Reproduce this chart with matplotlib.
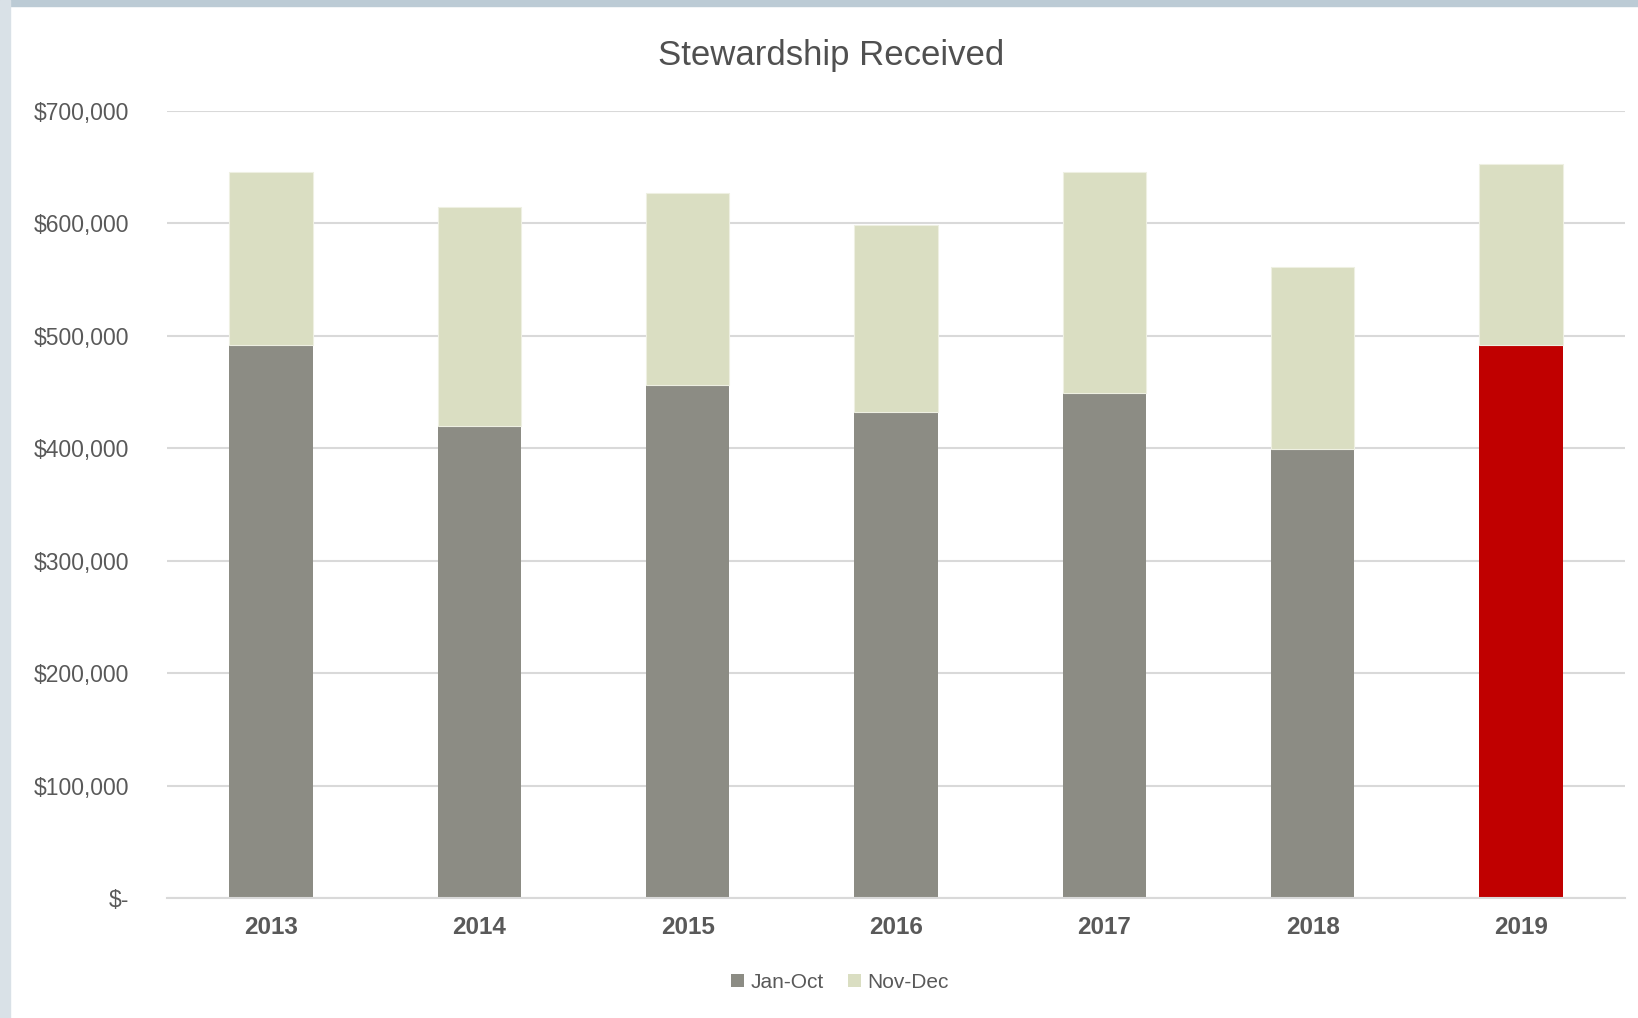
import numpy as np
import matplotlib
matplotlib.use("Agg")
import matplotlib.pyplot as plt
from matplotlib.patches import Rectangle, Patch

# Data
years = ["2013", "2014", "2015", "2016", "2017", "2018", "2019"]
jan_oct = [492000, 420000, 456000, 432000, 449000, 399000, 492000]
nov_dec = [154000, 195000, 171000, 167000, 197000, 162000, 161000]
y_ticks = [0, 100000, 200000, 300000, 400000, 500000, 600000, 700000]

GREY = "#8c8c84"
SAGE = "#dadec2"
RED = "#c00000"
TEXT = "#595959"
GRID = "#d9d9d9"

plt.rcParams['font.family'] = ['Liberation Sans', 'DejaVu Sans']

fig = plt.figure(figsize=(16.38, 10.18), dpi=100)
fig.patch.set_facecolor("white")

# window frame strips (top and left)
fig.patches.append(Rectangle((0, 1 - 6 / 1018), 1, 6 / 1018, transform=fig.transFigure,
                             color="#bccbd5", zorder=0))
fig.patches.append(Rectangle((0, 0), 10 / 1638, 1, transform=fig.transFigure,
                             color="#d9e1e7", zorder=0))

ax = fig.add_axes([167 / 1638, 1 - 898 / 1018, (1625 - 167) / 1638, (898 - 111) / 1018])

x = np.arange(len(years))
base_colors = [GREY] * (len(years) - 1) + [RED]
ax.bar(x, jan_oct, width=0.4, color=base_colors, zorder=3)
ax.bar(x, nov_dec, width=0.4, bottom=jan_oct, color=SAGE, edgecolor="#eef0e2",
       linewidth=0.8, zorder=3)

ax.set_xlim(-0.5, len(years) - 0.5)
ax.set_ylim(0, 700000)
ax.set_yticks(y_ticks)
ax.set_yticklabels(["$-" if v == 0 else f"${v:,.0f}" for v in y_ticks])
ax.set_xticks(x)
ax.set_xticklabels(years, fontweight="bold")

ax.yaxis.grid(True, color=GRID, linewidth=1.5, zorder=0)
ax.set_axisbelow(True)
for side in ["top", "right", "left"]:
    ax.spines[side].set_visible(False)
ax.spines["bottom"].set_color(GRID)
ax.spines["bottom"].set_linewidth(1.5)
ax.spines["bottom"].set_zorder(4)

ax.tick_params(axis="y", length=0, pad=27, labelsize=16.5, labelcolor=TEXT)
ax.tick_params(axis="x", length=0, pad=13, labelsize=17.5, labelcolor=TEXT)

fig.text(831 / 1638, 1 - 56 / 1018, "Stewardship Received", ha="center", va="center",
         fontsize=25, color="#505050")

handles = [Patch(facecolor=GREY, label="Jan-Oct"), Patch(facecolor=SAGE, label="Nov-Dec")]
fig.legend(handles=handles, loc="center", bbox_to_anchor=(840 / 1638, 1 - 982 / 1018),
           ncol=2, frameon=False, fontsize=15, labelcolor=TEXT, handlelength=0.6,
           handleheight=0.6, handletextpad=0.3, columnspacing=1.2)

plt.savefig("out.png", dpi=100)
